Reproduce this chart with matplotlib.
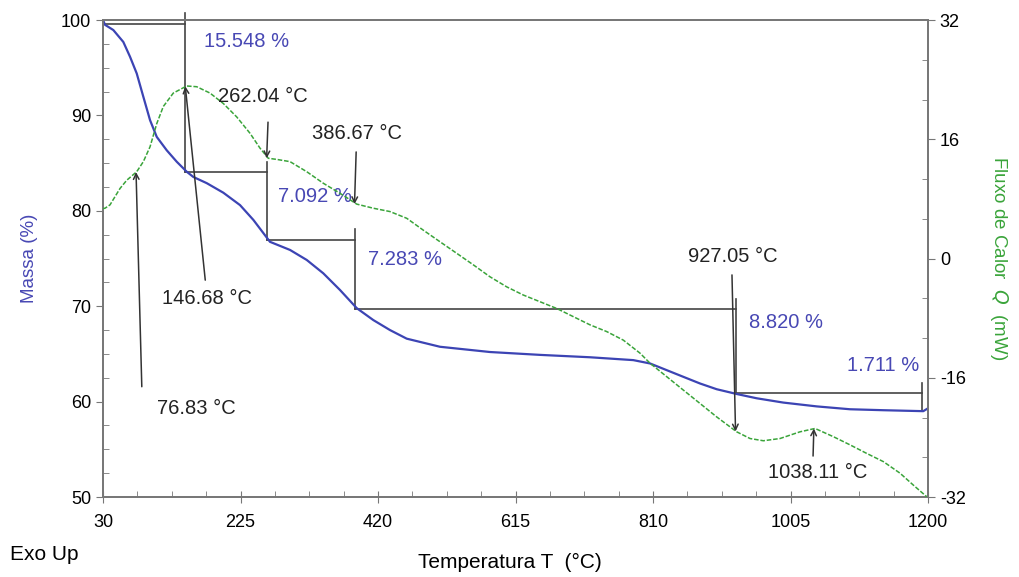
import numpy as np
import matplotlib
matplotlib.use("Agg")
import matplotlib.pyplot as plt
from matplotlib import font_manager
from matplotlib.ticker import FixedLocator, MultipleLocator

# curva TG (massa %)
tg_T = [30, 32.8, 44.6, 58.8, 68.3, 77.8, 87.2, 96.7, 106.2, 120.3, 134.5, 148.7,
        158.1, 177.1, 200.6, 224.3, 243.2, 266.8, 295.2, 318.9, 342.4, 366.1, 389.8,
        413.3, 437.0, 460.7, 507.9, 578.8, 649.8, 720.7, 782.1, 805.8, 829.4, 853.0,
        876.7, 900.3, 928.7, 957.1, 994.8, 1042.2, 1089.4, 1136.7, 1193.3, 1200]
tg_m = [100.0, 99.5, 98.95, 97.7, 96.15, 94.4, 91.95, 89.5, 87.75, 86.35, 85.15, 84.1,
        83.55, 82.9, 81.9, 80.6, 79.05, 76.75, 75.9, 74.85, 73.45, 71.7, 69.8,
        68.55, 67.5, 66.6, 65.75, 65.2, 64.9, 64.65, 64.35, 64.0, 63.3, 62.6,
        61.9, 61.3, 60.8, 60.35, 59.9, 59.5, 59.2, 59.1, 59.0, 59.3]

# curva DSC (fluxo de calor mW)
dsc_T = [30, 32.8, 39.9, 47.0, 54.1, 63.6, 77.8, 87.2, 96.7, 106.2, 115.5, 129.7,
         148.7, 162.9, 181.7, 200.6, 219.6, 238.5, 252.7, 264.4, 276.3, 295.2, 318.9,
         342.4, 366.1, 389.8, 413.3, 437.0, 460.7, 484.3, 507.9, 531.6, 555.2, 578.8,
         602.5, 626.1, 649.8, 673.4, 697.0, 720.7, 744.3, 767.9, 791.6, 805.8, 829.4,
         853.0, 876.7, 900.3, 928.7, 947.6, 966.5, 990.1, 1018.5, 1039.8, 1065.7,
         1089.4, 1113.1, 1136.7, 1160.3, 1179.2, 1198.1]
dsc_Q = [6.7, 6.75, 7.2, 8.3, 9.4, 10.5, 11.65, 13.0, 15.0, 18.1, 20.4, 22.2,
         23.15, 23.05, 22.2, 20.8, 19.0, 16.8, 14.8, 13.45, 13.3, 13.0, 11.65,
         10.1, 8.75, 7.3, 6.75, 6.3, 5.4, 3.8, 2.25, 0.7, -0.85, -2.45,
         -3.8, -4.9, -5.8, -6.7, -7.8, -8.9, -9.8, -10.95, -12.7, -14.05, -15.85,
         -17.65, -19.45, -21.25, -23.25, -24.15, -24.45, -24.15, -23.25, -22.8, -23.9,
         -25.0, -26.15, -27.25, -28.8, -30.4, -31.95]

# degraus de perda de massa
step_T = [30, 146.68, 262.04, 386.67, 927.05, 1192]
start_mass = 99.6
losses = [15.548, 7.092, 7.283, 8.820, 1.711]
loss_pos = [(234, 97.7), (331, 81.45), (458, 74.85), (999, 68.25), (1136, 63.75)]

# picos anotados
peak_T = [76.83, 146.68, 262.04, 386.67, 927.05, 1038.11]
peak_Q = [11.6, 23.1, 13.45, 7.3, -23.2, -22.8]
tail_pos = [(85, -17.2), (175, -2.9), (264, 18.3), (389, 14.3), (922, -2.2), (1037, -26.5)]
label_pos = [(163, -20.1), (177, -5.3), (257, 21.7), (390, 16.8), (923, 0.3), (1044, -28.7)]

names = {f.name for f in font_manager.fontManager.ttflist}
narrow = "Liberation Sans Narrow" if "Liberation Sans Narrow" in names else "Liberation Sans"
plt.rcParams["font.family"] = ["Liberation Sans", "DejaVu Sans"]
plt.rcParams["axes.unicode_minus"] = False

blue = "#3c44b4"
green = "#3aa43a"
txtblue = "#4848b4"
gray = "#777777"

fig = plt.figure(figsize=(10.19, 5.77), dpi=100)
ax = fig.add_axes([0.1011, 0.1386, 0.8096, 0.8267])
ax2 = ax.twinx()

ax.plot(tg_T, tg_m, color=blue, lw=1.6, zorder=3)
ax2.plot(dsc_T, dsc_Q, color=green, lw=1.1, ls=(0, (3, 1.2)), zorder=3)

# degraus
levels = start_mass - np.concatenate([[0], np.cumsum(losses)])
for i in range(len(losses)):
    ax.plot([step_T[i], step_T[i + 1]], [levels[i], levels[i]], color="#444444", lw=1.2, zorder=2)
    ax.plot([step_T[i + 1], step_T[i + 1]], [levels[i] + 1.1, levels[i + 1]],
            color="#444444", lw=1.2, zorder=2, clip_on=False)
    ax.text(loss_pos[i][0], loss_pos[i][1], f"{losses[i]:.3f} %", color=txtblue,
            fontsize=14.5, ha="center", va="center")

for t, q, tail, lab in zip(peak_T, peak_Q, tail_pos, label_pos):
    ax2.annotate("", xy=(t, q), xytext=tail,
                 arrowprops=dict(arrowstyle="->", color="#333333", lw=1.1, shrinkA=0, shrinkB=0))
    ax2.text(lab[0], lab[1], f"{t:.2f} °C", color="#222222", fontsize=14.5,
             ha="center", va="center")

ax.set_xlim(30, 1200)
ax.set_ylim(50, 100)
ax2.set_ylim(-32, 32)
ax.set_xticks([30, 225, 420, 615, 810, 1005, 1200])
ax.xaxis.set_minor_locator(FixedLocator(np.arange(30, 1201, 48.75)))
ax.set_yticks([50, 60, 70, 80, 90, 100])
ax.yaxis.set_minor_locator(MultipleLocator(2.5))
ax2.set_yticks([-32, -16, 0, 16, 32])
ax2.yaxis.set_minor_locator(FixedLocator(np.linspace(-32, 32, 13)))

for a in (ax, ax2):
    for s in a.spines.values():
        s.set_color(gray)
        s.set_linewidth(1.3)
ax.tick_params(axis="x", which="major", direction="inout", length=8, color=gray, pad=8)
ax.tick_params(axis="x", which="minor", direction="in", length=4, color=gray)
ax.tick_params(axis="y", which="major", direction="out", length=5, color=gray)
ax.tick_params(axis="y", which="minor", direction="in", length=4, color=gray)
ax2.tick_params(axis="y", which="major", direction="out", length=5, color=gray)
ax2.tick_params(axis="y", which="minor", direction="in", length=4, color=gray)
for lbl in ax.get_xticklabels() + ax.get_yticklabels() + ax2.get_yticklabels():
    lbl.set_fontfamily(narrow)
    lbl.set_fontsize(13)

ax.set_ylabel("Massa (%)", color=txtblue, fontsize=13.5)
ax.yaxis.set_label_coords(-0.079, 0.5)
ax2.set_ylabel(r"Fluxo de Calor  $\mathit{Q}$  (mW)", color=green, fontsize=13.5, rotation=270)
ax2.yaxis.set_label_coords(1.099, 0.5)
fig.text(0.5, 0.015, "Temperatura T  (°C)", fontsize=15, family=narrow, ha="center")
fig.text(0.01, 0.03, "Exo Up", fontsize=15, family=narrow, ha="left")

fig.savefig("out.png", dpi=100)
